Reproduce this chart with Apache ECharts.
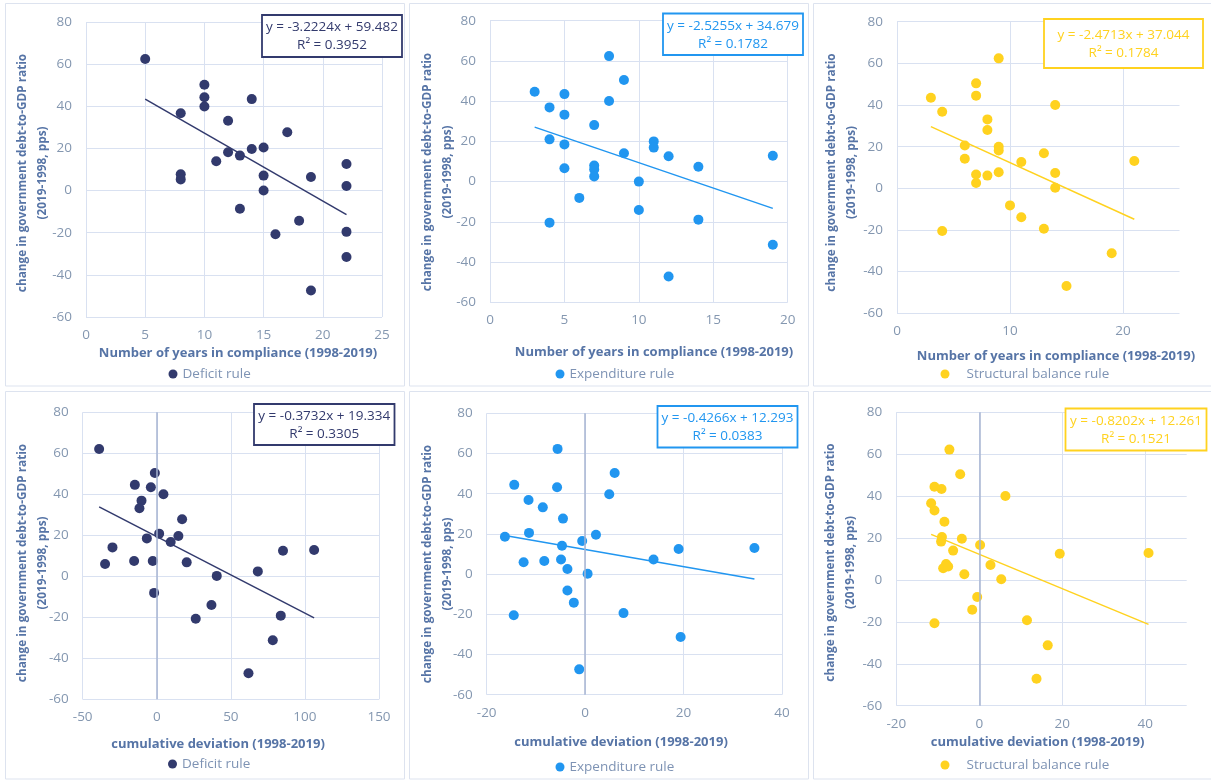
<!DOCTYPE html>
<html>
<head>
<meta charset="utf-8">
<title>Debt change vs fiscal rule compliance</title>
<script src="https://cdn.jsdelivr.net/npm/echarts@6/dist/echarts.min.js"></script>
<style>
  html, body { margin: 0; padding: 0; background: #fff; }
  #chart { width: 1211px; height: 780px; }
</style>
</head>
<body>
<div id="chart"></div>
<script>
// deficit rule vs number of years in compliance
const deficitYearsX = [5, 10, 10, 10, 8, 8, 8, 14, 12, 12, 11, 13, 13, 14, 15, 15, 15, 17, 16, 18, 19, 19, 22, 22, 22, 22];
const deficitYearsY = [62.4, 50.2, 44.3, 39.9, 36.7, 7.7, 5.3, 43.4, 33.1, 18.2, 13.9, 16.6, -8.6, 19.7, 20.4, 7.1, 0, 27.7, -20.7, -14.3, 6.4, -47.4, 12.6, 2.2, -19.6, -31.5];
const deficitYearsFit = [-3.2224, 59.482, 0.3952];

// expenditure rule vs number of years in compliance
const expYearsX = [3, 4, 4, 4, 5, 5, 5, 5, 6, 7, 7, 7, 7, 8, 8, 9, 9, 10, 10, 11, 11, 12, 12, 14, 14, 19, 19];
const expYearsY = [44.7, 36.9, 21.0, -20.4, 43.5, 33.3, 18.5, 6.6, -8.1, 28.1, 8.0, 6.0, 2.6, 62.4, 40.1, 50.5, 14.1, 0, -14.1, 20.0, 16.9, 12.6, -47.2, 7.4, -18.9, 12.9, -31.4];
const expYearsFit = [-2.5255, 34.679, 0.1782];

// structural balance rule vs number of years in compliance
const sbYearsX = [3, 4, 4, 6, 6, 7, 7, 7, 7, 8, 8, 8, 9, 9, 9, 9, 10, 11, 11, 13, 13, 14, 14, 14, 15, 19, 21];
const sbYearsY = [43.5, 36.8, -20.5, 20.6, 14.2, 50.4, 44.5, 6.6, 2.6, 33.1, 28.0, 6.1, 62.4, 20.0, 18.2, 7.7, -8.2, 12.6, -13.9, 16.8, -19.4, 40.0, 7.4, 0.3, -46.9, -31.2, 13.1];
const sbYearsFit = [-2.4713, 37.044, 0.1784];

// deficit rule vs cumulative deviation
const deficitDevX = [-38.9, -34.9, -29.9, -15.3, -14.8, -10.3, -11.7, -6.7, -4.0, -2.7, -1.8, -1.3, 1.6, 4.5, 9.4, 14.6, 17.1, 20.2, 26.3, 36.9, 40.5, 61.9, 68.2, 78.3, 83.7, 85.2, 106.2];
const deficitDevY = [62.1, 6.0, 14.1, 7.5, 44.6, 36.9, 33.2, 18.5, 43.4, 7.5, -8.1, 50.4, 20.8, 40.0, 16.7, 19.7, 27.8, 6.8, -20.7, -14.0, 0.2, -47.3, 2.4, -31.2, -19.2, 12.5, 12.8];
const deficitDevFit = [-0.3732, 19.334, 0.3305];

// expenditure rule vs cumulative deviation
const expDevX = [-16.3, -14.4, -14.5, -12.5, -11.5, -11.4, -8.6, -8.3, -5.6, -5.7, -4.5, -4.7, -4.9, -3.6, -3.6, -2.3, -1.2, -0.6, 0.5, 2.2, 4.9, 6.0, 7.8, 13.9, 19.0, 19.4, 34.4];
const expDevY = [18.6, 44.4, -20.5, 5.9, 36.9, 20.5, 33.2, 6.5, 62.3, 43.2, 27.6, 14.1, 7.3, 2.5, -8.2, -14.2, -47.4, 16.5, 0.2, 19.6, 39.7, 50.3, -19.4, 7.3, 12.5, -31.3, 13.0];
const expDevFit = [-0.4266, 12.293, 0.0383];

// structural balance rule vs cumulative deviation
const sbDevX = [-7.2, -4.6, -10.8, -9.1, -11.6, -10.8, -8.4, -9.0, -9.2, -4.2, -6.3, -8.0, -8.7, -7.5, -3.6, 0.2, -0.5, -1.7, 2.7, 5.3, 6.3, -10.8, 11.5, 16.5, 13.8, 19.4, 40.8];
const sbDevY = [62.2, 50.4, 44.5, 43.4, 36.6, 33.1, 27.8, 20.5, 18.3, 19.7, 14.0, 7.6, 5.6, 6.4, 2.7, 16.7, -8.1, -14.2, 7.1, 0.3, 40.1, -20.7, -19.2, -31.2, -47.1, 12.5, 12.9];
const sbDevFit = [-0.8202, 12.261, 0.1521];

const yTicks = [-60, 80, 20];
const yTitle = ['change in government debt-to-GDP ratio', '(2019-1998, pps)'];
const xTitleYears = 'Number of years in compliance (1998-2019)';
const xTitleDev = 'cumulative deviation (1998-2019)';

const NAVY = '#323a6d';
const BLUE = '#2196f0';
const YELLOW = '#ffd21f';
const FONT = '"Open Sans", "Noto Sans", sans-serif';
const TICK = '#8497b0';
const TITLE = '#5674a6';
const GRIDLINE = '#d9e1f1';

// layout of each of the six panels (pixels)
const panels = [
  { x: deficitYearsX, y: deficitYearsY, fit: deficitYearsFit, color: NAVY, name: 'Deficit rule',
    xr: [0, 25, 5], grid: [86, 22, 296, 295], frame: [5.5, 3.5, 399, 382.5],
    box: [262, 15, 140, 42], xt: xTitleYears, xtPos: [238, 353], ytPos: [33, 173], leg: [168.5, 373], legPad: 0 },
  { x: expYearsX, y: expYearsY, fit: expYearsFit, color: BLUE, name: 'Expenditure rule',
    xr: [0, 20, 5], grid: [490, 20.7, 297.7, 281.6], frame: [409.5, 3.5, 399, 382.5],
    box: [663, 13.5, 140, 41.5], xt: xTitleYears, xtPos: [654, 352], ytPos: [437.7, 172], leg: [555.5, 373], legPad: 0 },
  { x: sbYearsX, y: sbYearsY, fit: sbYearsFit, color: YELLOW, name: 'Structural balance rule',
    xr: [0, 25, 10], grid: [897, 21.7, 282.5, 291.6], frame: [813.5, 3.5, 402, 382.5],
    box: [1044, 19, 159, 49], xt: xTitleYears, xtPos: [1056, 356], ytPos: [841.3, 172.5], leg: [940.5, 373], legPad: 12, hideMax: true },
  { x: deficitDevX, y: deficitDevY, fit: deficitDevFit, color: NAVY, name: 'Deficit rule',
    xr: [-50, 150, 50], grid: [82.7, 412.3, 296.3, 287], frame: [5.5, 391.5, 399, 387.5],
    box: [254, 404, 140.5, 41], xt: xTitleDev, xtPos: [218, 744], ytPos: [33, 563], leg: [168, 763], legPad: 0, zero: true },
  { x: expDevX, y: expDevY, fit: expDevFit, color: BLUE, name: 'Expenditure rule',
    xr: [-20, 40, 20], grid: [486.7, 413.3, 295.3, 281.4], frame: [409.5, 391.5, 399, 387.5],
    box: [657.5, 406, 140, 41.5], xt: xTitleDev, xtPos: [621, 742], ytPos: [437.7, 564], leg: [555.5, 766], legPad: 0, zero: true },
  { x: sbDevX, y: sbDevY, fit: sbDevFit, color: YELLOW, name: 'Structural balance rule',
    xr: [-20, 50, 20], grid: [896.3, 412.3, 290.4, 293.4], frame: [813.5, 391.5, 402, 387.5],
    box: [1065.5, 408.5, 141, 42], xt: xTitleDev, xtPos: [1037.5, 742], ytPos: [841, 562.5], leg: [940.5, 764], legPad: 12, hideMax: true, zero: true }
];

const chart = echarts.init(document.getElementById('chart'));

const grid = [], xAxis = [], yAxis = [], series = [], legend = [], graphic = [];

panels.forEach((p, i) => {
  grid.push({ left: p.grid[0], top: p.grid[1], width: p.grid[2], height: p.grid[3] });

  xAxis.push({
    gridIndex: i, type: 'value', min: p.xr[0], max: p.xr[1], interval: p.xr[2],
    axisLine: { show: false }, axisTick: { show: false },
    axisLabel: { color: TICK, fontSize: 13.5, fontFamily: FONT, margin: 11, showMaxLabel: !p.hideMax },
    splitLine: { lineStyle: { color: GRIDLINE, width: 1 }, showMaxLine: !p.hideMax }
  });
  yAxis.push({
    gridIndex: i, type: 'value', min: yTicks[0], max: yTicks[1], interval: yTicks[2],
    axisLine: { show: false }, axisTick: { show: false },
    axisLabel: { color: TICK, fontSize: 13.5, fontFamily: FONT, margin: 14 },
    splitLine: { lineStyle: { color: GRIDLINE, width: 1 } }
  });

  const pts = p.x.map((v, k) => [v, p.y[k]]);
  const scatter = {
    type: 'scatter', name: p.name, xAxisIndex: i, yAxisIndex: i,
    data: pts, symbolSize: 10, itemStyle: { color: p.color, opacity: 1 }, z: 4
  };
  if (p.zero) {
    scatter.markLine = {
      silent: true, symbol: 'none', label: { show: false },
      lineStyle: { color: '#a7b5d2', width: 1.5, type: 'solid' },
      data: [{ xAxis: 0 }]
    };
  }
  series.push(scatter);

  // linear trend line from the fitted equation, across the range of the data
  const lo = Math.min(...p.x), hi = Math.max(...p.x);
  const [a, b, r2] = p.fit;
  series.push({
    type: 'line', name: 'trend' + i, xAxisIndex: i, yAxisIndex: i, silent: true,
    data: [[lo, a * lo + b], [hi, a * hi + b]], showSymbol: false,
    lineStyle: { color: p.color, width: 1.5 }, z: 3
  });

  legend.push({
    data: [{ name: p.name, icon: 'circle' }], left: p.leg[0], top: p.leg[1] - 6, padding: 0,
    itemWidth: 9, itemHeight: 9, selectedMode: false,
    textStyle: { color: '#7e93b4', fontSize: 13.5, fontFamily: FONT, padding: [0, 0, 0, p.legPad] }
  });

  // panel frame
  graphic.push({
    type: 'rect', shape: { x: p.frame[0], y: p.frame[1], width: p.frame[2], height: p.frame[3] },
    style: { fill: 'none', stroke: '#dde3ef', lineWidth: 1 }, silent: true, z: 0
  });

  // equation box
  const eq = 'y = ' + a.toFixed(4) + 'x + ' + b.toFixed(3);
  const rs = 'R\u00B2 = ' + r2.toFixed(4);
  const [bx, by, bw, bh] = p.box;
  graphic.push({
    type: 'rect', shape: { x: bx, y: by, width: bw, height: bh },
    style: { fill: '#fff', stroke: p.color, lineWidth: 1.8 }, z: 10
  });
  graphic.push({
    type: 'text', x: bx + bw / 2, y: by + bh / 2 - 8.5, z: 11,
    style: { text: eq, fill: p.color, font: '13.5px ' + FONT, textAlign: 'center', textVerticalAlign: 'middle' }
  });
  graphic.push({
    type: 'text', x: bx + bw / 2, y: by + bh / 2 + 9.5, z: 11,
    style: { text: rs, fill: p.color, font: '13.5px ' + FONT, textAlign: 'center', textVerticalAlign: 'middle' }
  });

  // axis titles
  graphic.push({
    type: 'text', x: p.xtPos[0], y: p.xtPos[1], z: 11,
    style: { text: p.xt, fill: TITLE, font: 'bold 13px ' + FONT, textAlign: 'center', textVerticalAlign: 'middle' }
  });
  graphic.push({
    type: 'text', x: p.ytPos[0], y: p.ytPos[1], rotation: Math.PI / 2, z: 11,
    style: { text: yTitle.join('\n'), fill: TITLE, font: 'bold 11.8px ' + FONT, lineHeight: 20,
             textAlign: 'center', textVerticalAlign: 'middle' }
  });
});

chart.setOption({
  backgroundColor: '#fff',
  animation: false,
  grid, xAxis, yAxis, series, legend, graphic
});
</script>
</body>
</html>
